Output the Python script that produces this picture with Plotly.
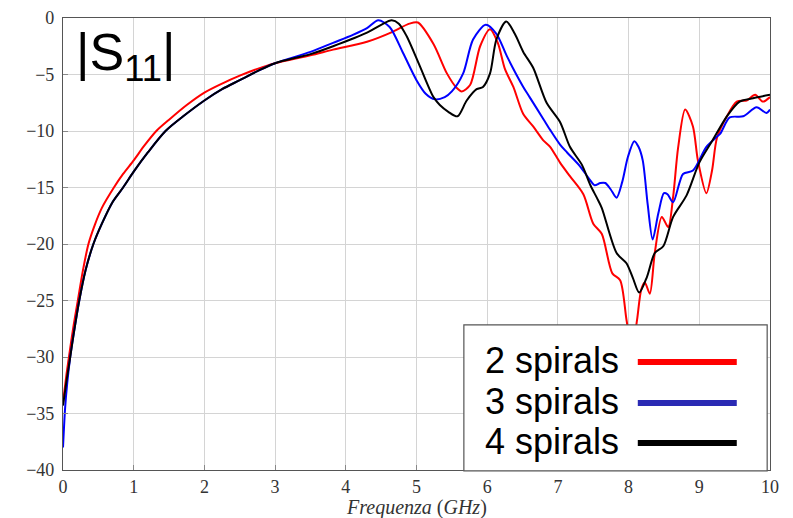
import plotly.graph_objects as go

# ---- data ----
freq_2 = [0, 0.05, 0.1, 0.15, 0.21, 0.28, 0.36, 0.45, 0.55, 0.72, 0.85, 1.0, 1.15, 1.32, 1.5, 1.75, 2.0, 2.25,
          2.5, 2.75, 3.0, 3.5, 3.82, 4.3, 4.67, 4.9, 5.02,
          5.24, 5.43, 5.57, 5.64, 5.76, 5.9, 6.04, 6.15, 6.25, 6.37, 6.51, 6.65, 6.79, 6.89, 7.03, 7.17,
          7.36, 7.5, 7.62, 7.77, 7.88, 7.97, 8.05, 8.12, 8.18, 8.23, 8.3, 8.37, 8.47, 8.56, 8.63, 8.7,
          8.8, 8.91, 8.98, 9.1, 9.18, 9.25, 9.39, 9.53, 9.67, 9.79, 9.9, 10.0]
s11_2 = [-34, -31.5, -29.3, -27.2, -25, -22.4, -20, -18.3, -16.8, -15, -13.8, -12.6, -11.3, -10, -9.0, -7.7, -6.6, -5.8,
         -5.1, -4.5, -4.0, -3.3, -2.8, -2.1, -1.2, -0.5, -0.4,
         -2.3, -4.9, -6.2, -6.5, -5.9, -2.5, -1.0, -2.2, -4.5, -6.1, -8.5, -9.6, -10.8, -11.4, -12.8, -14.0,
         -15.6, -18.2, -19.1, -22.6, -23.2, -26.7, -29.5, -26.7, -24.0, -23.4, -24.4, -20.8, -17.6, -18.5, -15.8, -11.5,
         -8.1, -9.6, -12.6, -15.5, -13.5, -10.6, -8.7, -7.4, -7.3, -6.8, -7.4, -7.0]

freq_3 = [0, 0.03, 0.06, 0.1, 0.15, 0.23, 0.32, 0.43, 0.55, 0.7, 0.85, 1.0, 1.2, 1.45, 1.7, 2.0, 2.25, 2.5, 2.75,
          3.0, 3.5, 3.82, 4.1, 4.3, 4.46, 4.62,
          4.81, 5.0, 5.13, 5.26, 5.4, 5.5, 5.66, 5.8, 5.98, 6.13, 6.28, 6.51, 6.6, 6.8, 6.89, 7.03, 7.13,
          7.31, 7.45, 7.52, 7.6, 7.67, 7.75, 7.83, 7.91, 7.99, 8.08, 8.14, 8.2, 8.27, 8.34, 8.42, 8.5, 8.55,
          8.63, 8.77, 8.91, 9.1, 9.25, 9.3, 9.43, 9.62, 9.81, 9.95, 10.0]
s11_3 = [-38, -34.5, -32.3, -30.1, -28, -25, -22.3, -20, -18.2, -16.3, -15, -13.6, -11.9, -10, -8.7, -7.3, -6.3, -5.5, -4.7,
         -4.0, -3.0, -2.2, -1.5, -0.9, -0.2, -0.8,
         -3.1, -5.5, -6.7, -7.2, -7.0, -6.5, -4.9, -1.9, -0.6, -1.4, -3.4, -6.1, -7.0, -9.0, -9.9, -11.2, -11.9,
         -13.1, -14.3, -14.8, -14.6, -14.6, -15.2, -15.9, -14.5, -12.3, -10.9, -11.4, -12.6, -16.5, -19.6, -17.3, -15.5, -15.6,
         -16.3, -13.8, -13.5, -11.4, -10.5, -10.2, -8.8, -8.7, -7.9, -8.4, -8.1]

freq_4 = [0, 0.05, 0.1, 0.15, 0.23, 0.32, 0.43, 0.55, 0.7, 0.85, 1.0, 1.2, 1.45, 1.7, 2.0, 2.25, 2.5, 2.75,
          3.0, 3.5, 3.82, 4.3, 4.5, 4.65, 4.75, 4.86,
          5.05, 5.24, 5.33, 5.45, 5.58, 5.71, 5.85, 5.94, 6.04, 6.13, 6.27, 6.39, 6.51, 6.65, 6.84, 7.03, 7.17,
          7.34, 7.46, 7.55, 7.62, 7.83, 7.97, 8.06, 8.15, 8.26, 8.37, 8.49, 8.63, 8.82, 9.0, 9.19, 9.39, 9.57,
          9.76, 10.0]
s11_4 = [-34.3, -32.1, -30.1, -28, -25, -22.3, -20, -18.2, -16.3, -15, -13.6, -11.9, -10, -8.7, -7.3, -6.3, -5.5, -4.7,
         -4.0, -3.2, -2.5, -1.3, -0.6, -0.2, -0.5, -1.6,
         -4.3, -7.0, -7.7, -8.3, -8.7, -7.3, -6.3, -6.1, -4.9, -1.9, -0.3, -1.4, -3.0, -4.4, -7.5, -9.2, -11.4,
         -13.0, -14.8, -15.9, -16.8, -20.8, -21.7, -23.0, -24.3, -22.9, -20.8, -20.2, -17.6, -15.7, -12.8, -10.8, -8.7, -7.4,
         -7.1, -6.8]

series_names = ["2 spirals", "3 spirals", "4 spirals"]
series_colors = ["#ff0000", "#0000ff", "#000000"]
legend_colors = ["#ff0000", "#2a2ab4", "#000000"]

x_ticks = [0, 1, 2, 3, 4, 5, 6, 7, 8, 9, 10]
y_ticks = [0, -5, -10, -15, -20, -25, -30, -35, -40]
x_title = "<i>Frequenza</i> (<i>GHz</i>)"

fig = go.Figure()
for fx, fy, name, col in zip([freq_2, freq_3, freq_4], [s11_2, s11_3, s11_4], series_names, series_colors):
    fig.add_trace(go.Scatter(x=fx, y=fy, mode="lines", name=name,
                             line=dict(color=col, width=2, shape="spline", smoothing=0.8),
                             showlegend=False))

serif = "Liberation Serif, DejaVu Serif, serif"
axis_common = dict(showgrid=True, gridcolor="#d4d4d4", gridwidth=1, zeroline=False,
                   showline=True, linecolor="#555555", linewidth=1.2, mirror=True,
                   ticks="inside", ticklen=5, tickcolor="#888888", automargin=False,
                   tickfont=dict(family=serif, size=18, color="#333333"))

fig.update_layout(
    width=793, height=518,
    margin=dict(l=63, r=23, t=18, b=48),
    paper_bgcolor="white", plot_bgcolor="white",
    xaxis=dict(range=[0, 10], tickvals=x_ticks, ticklabelstandoff=0, **axis_common),
    yaxis=dict(range=[-40, 0], tickvals=y_ticks, ticklabelstandoff=4, **axis_common),
    showlegend=False,
)

# x-axis title
fig.add_annotation(x=0.5, y=-0.084, xref="paper", yref="paper", xanchor="center", yanchor="middle",
                   text=x_title, showarrow=False,
                   font=dict(family=serif, size=20, color="#333333"))

# title label
fig.add_annotation(x=0.015, y=0.915, xref="paper", yref="paper", xanchor="left", yanchor="middle",
                   text="|S<sub>11</sub>|", showarrow=False,
                   font=dict(family="Liberation Sans, Arial, sans-serif", size=52, color="black"))

# custom legend (text left, line sample right)
fig.add_shape(type="rect", xref="paper", yref="paper", x0=0.567, x1=0.996, y0=-0.002, y1=0.321,
              line=dict(color="#555555", width=1.2), fillcolor="white", layer="above")
row_y = [0.239, 0.148, 0.060]
for name, col, yy in zip(series_names, legend_colors, row_y):
    fig.add_shape(type="line", xref="paper", yref="paper", x0=0.813, x1=0.953, y0=yy, y1=yy,
                  line=dict(color=col, width=6), layer="above")
    fig.add_annotation(x=0.594, y=yy + 0.004, xref="paper", yref="paper", xanchor="left", yanchor="middle",
                       text=name, showarrow=False,
                       font=dict(family="Liberation Sans, Arial, sans-serif", size=36, color="black"))

fig.write_html("out.html")
